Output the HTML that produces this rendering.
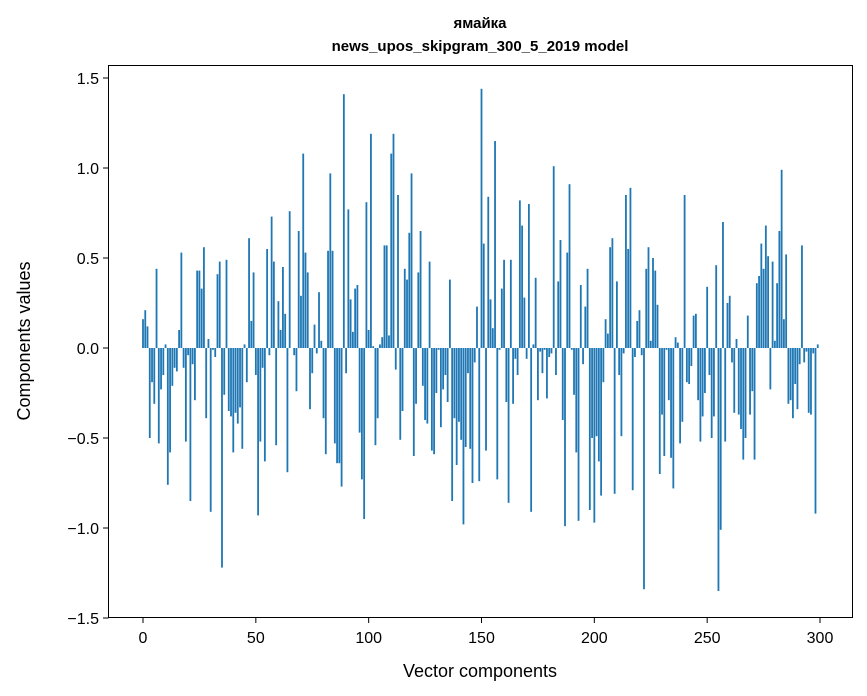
<!DOCTYPE html>
<html><head><meta charset="utf-8"><style>
html,body{margin:0;padding:0;background:#fff;}
svg{display:block;font-family:"Liberation Sans","DejaVu Sans",sans-serif;}
</style></head><body>
<svg id="chart" width="867" height="696" viewBox="0 0 867 696">
<rect width="867" height="696" fill="#fff"/>
<text x="480" y="28" text-anchor="middle" font-size="15" font-weight="bold">ямайка</text>
<text x="480" y="51" text-anchor="middle" font-size="15" font-weight="bold">news_upos_skipgram_300_5_2019 model</text>
<g id="bars"></g>
<g id="xticks"></g>
<g id="yticks"></g>
<rect x="108.5" y="65.5" width="744" height="552" fill="none" stroke="#000" stroke-width="1"/>
<text x="480" y="677" text-anchor="middle" font-size="18">Vector components</text>
<text transform="translate(30,341) rotate(-90)" text-anchor="middle" font-size="18">Components values</text>
</svg>
<script>
const values = [0.16,0.21,0.12,-0.50,-0.19,-0.31,0.44,-0.53,-0.23,-0.15,
0.02,-0.76,-0.58,-0.21,-0.11,-0.13,0.10,0.53,-0.11,-0.52,
-0.04,-0.85,-0.09,-0.29,0.43,0.43,0.33,0.56,-0.39,0.05,
-0.91,-0.01,-0.05,0.41,0.48,-1.22,-0.26,0.49,-0.35,-0.38,
-0.58,-0.36,-0.42,-0.33,-0.56,0.02,-0.19,0.61,0.15,0.42,
-0.15,-0.93,-0.52,-0.11,-0.63,0.55,-0.04,0.73,0.48,-0.54,
0.26,0.10,0.45,0.19,-0.69,0.76,0.00,-0.04,-0.24,0.65,
0.29,1.08,0.53,0.42,-0.34,-0.14,0.13,-0.03,0.31,0.04,
-0.39,-0.59,0.54,0.97,0.54,-0.53,-0.64,-0.64,-0.77,1.41,
-0.14,0.77,0.27,0.09,0.33,0.35,-0.47,-0.73,-0.95,0.81,
0.10,1.19,0.01,-0.54,-0.39,0.02,0.06,0.57,0.57,0.07,
1.08,1.19,-0.12,0.85,-0.51,-0.35,0.44,0.38,0.64,0.97,
-0.60,-0.31,0.42,0.65,-0.21,-0.40,-0.42,0.48,-0.57,-0.59,
-0.25,-0.01,-0.44,-0.23,-0.15,-0.30,0.38,-0.85,-0.39,-0.65,
-0.41,-0.51,-0.98,-0.55,-0.14,-0.56,-0.75,-0.08,0.23,-0.74,
1.44,0.58,-0.57,0.84,0.27,0.11,1.15,-0.73,-0.01,0.33,
0.49,-0.30,-0.86,0.49,-0.31,-0.06,-0.15,0.82,0.68,0.28,
-0.06,0.80,-0.91,0.02,0.39,-0.29,-0.02,-0.14,-0.01,-0.28,
-0.05,-0.03,1.01,-0.15,0.37,0.60,-0.40,-0.99,0.53,0.91,
-0.01,-0.26,-0.58,-0.96,0.35,-0.09,0.23,0.44,-0.90,-0.50,
-0.97,-0.49,-0.63,-0.82,-0.19,0.16,0.08,0.56,0.61,-0.81,
0.37,-0.15,-0.49,-0.03,0.85,0.55,0.89,-0.79,-0.05,0.15,
0.21,-0.04,-1.34,0.44,0.56,0.04,0.50,0.43,0.24,-0.70,
-0.37,-0.60,-0.01,-0.29,-0.61,-0.78,0.06,0.03,-0.53,-0.41,
0.85,-0.19,-0.20,-0.10,0.18,0.19,-0.29,-0.52,-0.38,-0.25,
0.34,-0.15,-0.50,-0.38,0.46,-1.35,-1.01,0.70,-0.52,0.25,
0.29,-0.08,-0.36,0.05,-0.37,-0.45,-0.62,-0.50,0.18,-0.37,
-0.24,-0.62,0.36,0.40,0.58,0.44,0.68,0.51,-0.23,0.48,
0.04,0.36,0.65,0.99,0.16,0.52,-0.31,-0.29,-0.39,-0.20,
-0.34,-0.09,0.57,-0.08,-0.02,-0.36,-0.37,-0.03,-0.92,0.02];
const xTicks = [0,50,100,150,200,250,300];
const yTicks = [-1.5,-1.0,-0.5,0.0,0.5,1.0,1.5];
const yTickLabels = ["\u22121.5","\u22121.0","\u22120.5","0.0","0.5","1.0","1.5"];

const NS="http://www.w3.org/2000/svg";
function xs(v){return 143+v*(677/300);}
function ys(v){return 348-v*180;}
const bars=document.getElementById('bars');
values.forEach((v,i)=>{
  const r=document.createElementNS(NS,'rect');
  const y0=ys(0),y1=ys(v);
  r.setAttribute('x',xs(i-0.4));
  r.setAttribute('width',0.8*677/300);
  r.setAttribute('y',Math.min(y0,y1));
  r.setAttribute('height',Math.abs(y1-y0));
  r.setAttribute('fill','#1f77b4');
  
  
  bars.appendChild(r);
});
const xg=document.getElementById('xticks');
xTicks.forEach(t=>{
  const l=document.createElementNS(NS,'line');
  l.setAttribute('x1',xs(t));l.setAttribute('x2',xs(t));
  l.setAttribute('y1',617.5);l.setAttribute('y2',623);
  l.setAttribute('stroke','#000');
  
  
  xg.appendChild(l);
  const tx=document.createElementNS(NS,'text');
  tx.setAttribute('x',xs(t));tx.setAttribute('y',643);
  tx.setAttribute('text-anchor','middle');tx.setAttribute('font-size','16');
  tx.textContent=t;
  
  
  xg.appendChild(tx);
});
const yg=document.getElementById('yticks');
yTicks.forEach((t,i)=>{
  const l=document.createElementNS(NS,'line');
  l.setAttribute('x1',103);l.setAttribute('x2',108.5);
  l.setAttribute('y1',ys(t));l.setAttribute('y2',ys(t));
  l.setAttribute('stroke','#000');
  
  
  yg.appendChild(l);
  const tx=document.createElementNS(NS,'text');
  tx.setAttribute('x',99);tx.setAttribute('y',ys(t)+6);
  tx.setAttribute('text-anchor','end');tx.setAttribute('font-size','16');
  tx.textContent=yTickLabels[i];
  
  
  yg.appendChild(tx);
});
</script>
</body></html>
